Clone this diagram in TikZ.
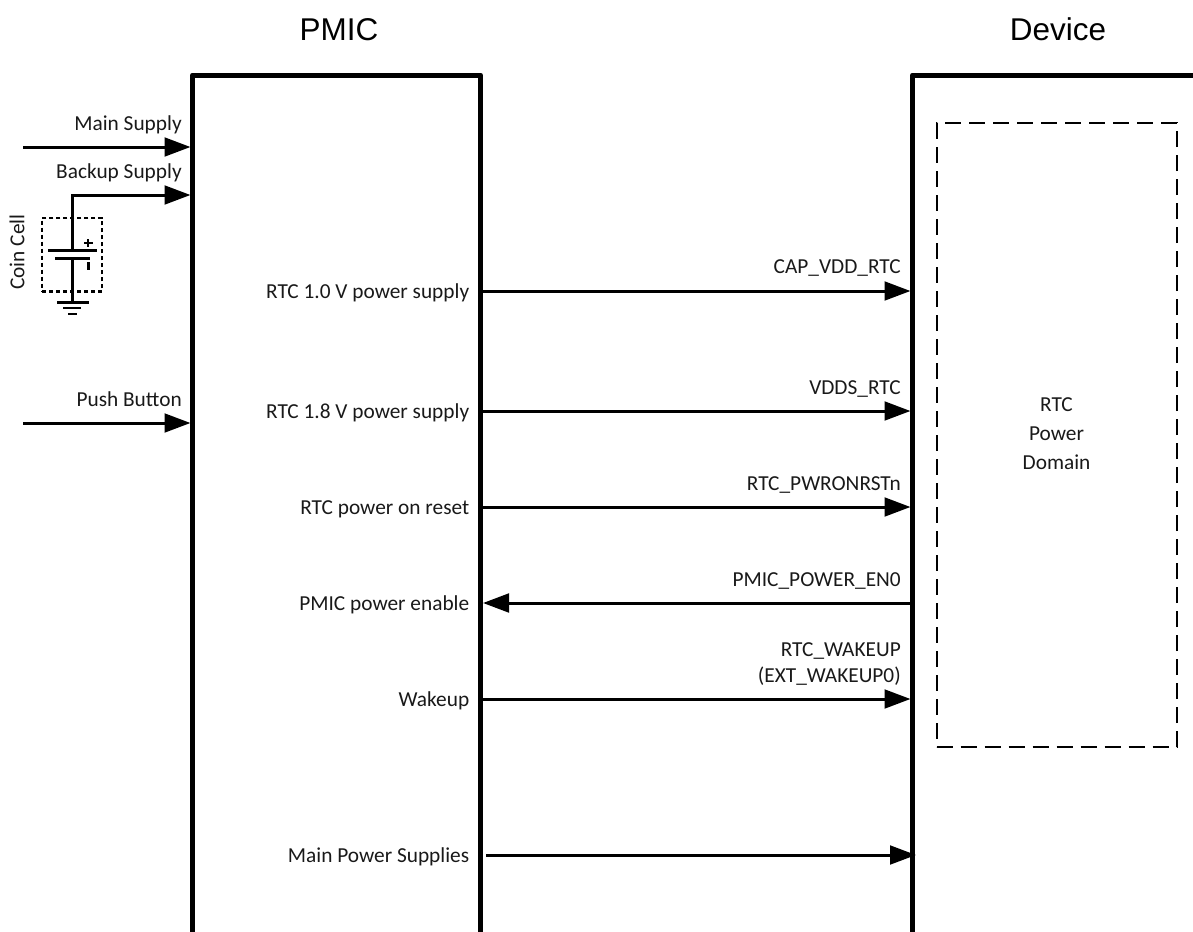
\documentclass[tikz,border=0pt]{standalone}
\usepackage{fontspec}
\setmainfont{Carlito}
\newfontfamily\titlefont{Liberation Sans}
\usetikzlibrary{arrows.meta}
\tikzset{
  x=0.75pt,y=-0.75pt,
  lbl/.style={inner sep=0pt,font=\fontsize{16}{21.75}\selectfont,text=black!90},
  rlbl/.style={lbl,anchor=base east},
  clbl/.style={lbl,anchor=center,align=center},
  titlelbl/.style={inner sep=0pt,anchor=base,font=\titlefont\fontsize{23.6}{28}\selectfont},
  wall/.style={line width=3.75pt,line join=round},
  sig/.style={line width=2.25pt,-{Triangle[length=19.5pt,width=14pt]},shorten >=0pt},
  wire/.style={line width=2.25pt},
  fine/.style={line width=1.9pt},
  rtcbox/.style={draw,line width=1.5pt,outer sep=0pt,dash pattern=on 12pt off 6pt},
  cellbox/.style={draw,line width=1.8pt,outer sep=0pt,dash pattern=on 3pt off 2.25pt},
}
\begin{document}
\begin{tikzpicture}
\useasboundingbox (0,0) rectangle (1193,932);
% frames
\draw[wall] (192.5,932) -- (192.5,75) -- (480.5,75) -- (480.5,932);
\draw[wall] (912.5,932) -- (912.5,75) -- (1193,75);
% titles
\node[titlelbl] (tp) at (339,40) {PMIC};
\node[titlelbl] (td) at (1058,40) {Device};
% RTC domain
\node[rtcbox,minimum width=180pt,minimum height=468pt,inner sep=0pt,anchor=north west] (rtc) at (936.5,123) {};
\node[clbl] (rtct) at (1056.5,433.5) {RTC\\Power\\Domain};
% coordinates on the frames
\coordinate (P1) at (481,291);\coordinate (D1) at (910.5,291);
\coordinate (P2) at (481,411);\coordinate (D2) at (910.5,411);
\coordinate (P3) at (481,507);\coordinate (D3) at (910.5,507);
\coordinate (P4) at (483,603);\coordinate (D4) at (913,603);
\coordinate (P5) at (481,699);\coordinate (D5) at (910.5,699);
\coordinate (P6) at (486,855);\coordinate (D6) at (916,855);
\coordinate (La) at (190.5,147);\coordinate (Lb) at (190.5,195);\coordinate (Lc) at (190.5,423);
\coordinate (Sa) at (23,147);\coordinate (Sc) at (23,423);\coordinate (Sb) at (72.5,195);
% arrows
\draw[sig] (Sa) -- (La);
\draw[sig] (Sc) -- (Lc);
\draw[sig] (P1) -- (D1);
\draw[sig] (P2) -- (D2);
\draw[sig] (P3) -- (D3);
\draw[sig] (D4) -- (P4);
\draw[sig] (P5) -- (D5);
\draw[sig] (P6) -- (D6);
% coin cell
\coordinate (cellplus) at (72.5,250);
\coordinate (cellminus) at (72.5,258);
\coordinate (gnd) at (72.5,302);
\draw[sig] (cellplus) -- (Sb) -- (Lb);
\draw[wire] (cellminus) -- (gnd);
\draw[wire] (48,250) -- (97,250);
\draw[wire] (55,258) -- (90,258);
\draw[fine] (84,243) -- (92.5,243) (88,239) -- (88,247);
\draw[wire] (88,262) -- (88,270);
\draw[wire] (57,302) -- (89,302);
\draw[fine] (63,308) -- (81,308);
\draw[fine] (68,314) -- (77,314);
\node[cellbox,minimum width=45pt,minimum height=55pt,inner sep=0pt,anchor=north west] (cell) at (42,218) {};
\node[lbl,rotate=90] (coin) at (17,252) {Coin Cell};
% left labels
\node[rlbl] (l1) at (182,130) {Main Supply};
\node[rlbl] (l2) at (182,178) {Backup Supply};
\node[rlbl] (l3) at (182,406) {Push Button};
% PMIC labels
\node[rlbl] (p1) at (469.5,298) {RTC 1.0 V power supply};
\node[rlbl] (p2) at (469.5,418) {RTC 1.8 V power supply};
\node[rlbl] (p3) at (469.5,514) {RTC power on reset};
\node[rlbl] (p4) at (469.5,610) {PMIC power enable};
\node[rlbl] (p5) at (469.5,706) {Wakeup};
\node[rlbl] (p6) at (469.5,862) {Main Power Supplies};
% device labels
\node[rlbl] (d1) at (901,273) {CAP\_VDD\_RTC};
\node[rlbl] (d2) at (901,394) {VDDS\_RTC};
\node[rlbl] (d3) at (901,490) {RTC\_PWRONRSTn};
\node[rlbl] (d4) at (901,586) {PMIC\_POWER\_EN0};
\node[rlbl] (d5) at (901,656) {RTC\_WAKEUP};
\node[rlbl] (d6) at (901,682) {(EXT\_WAKEUP0)};
\end{tikzpicture}
\end{document}
